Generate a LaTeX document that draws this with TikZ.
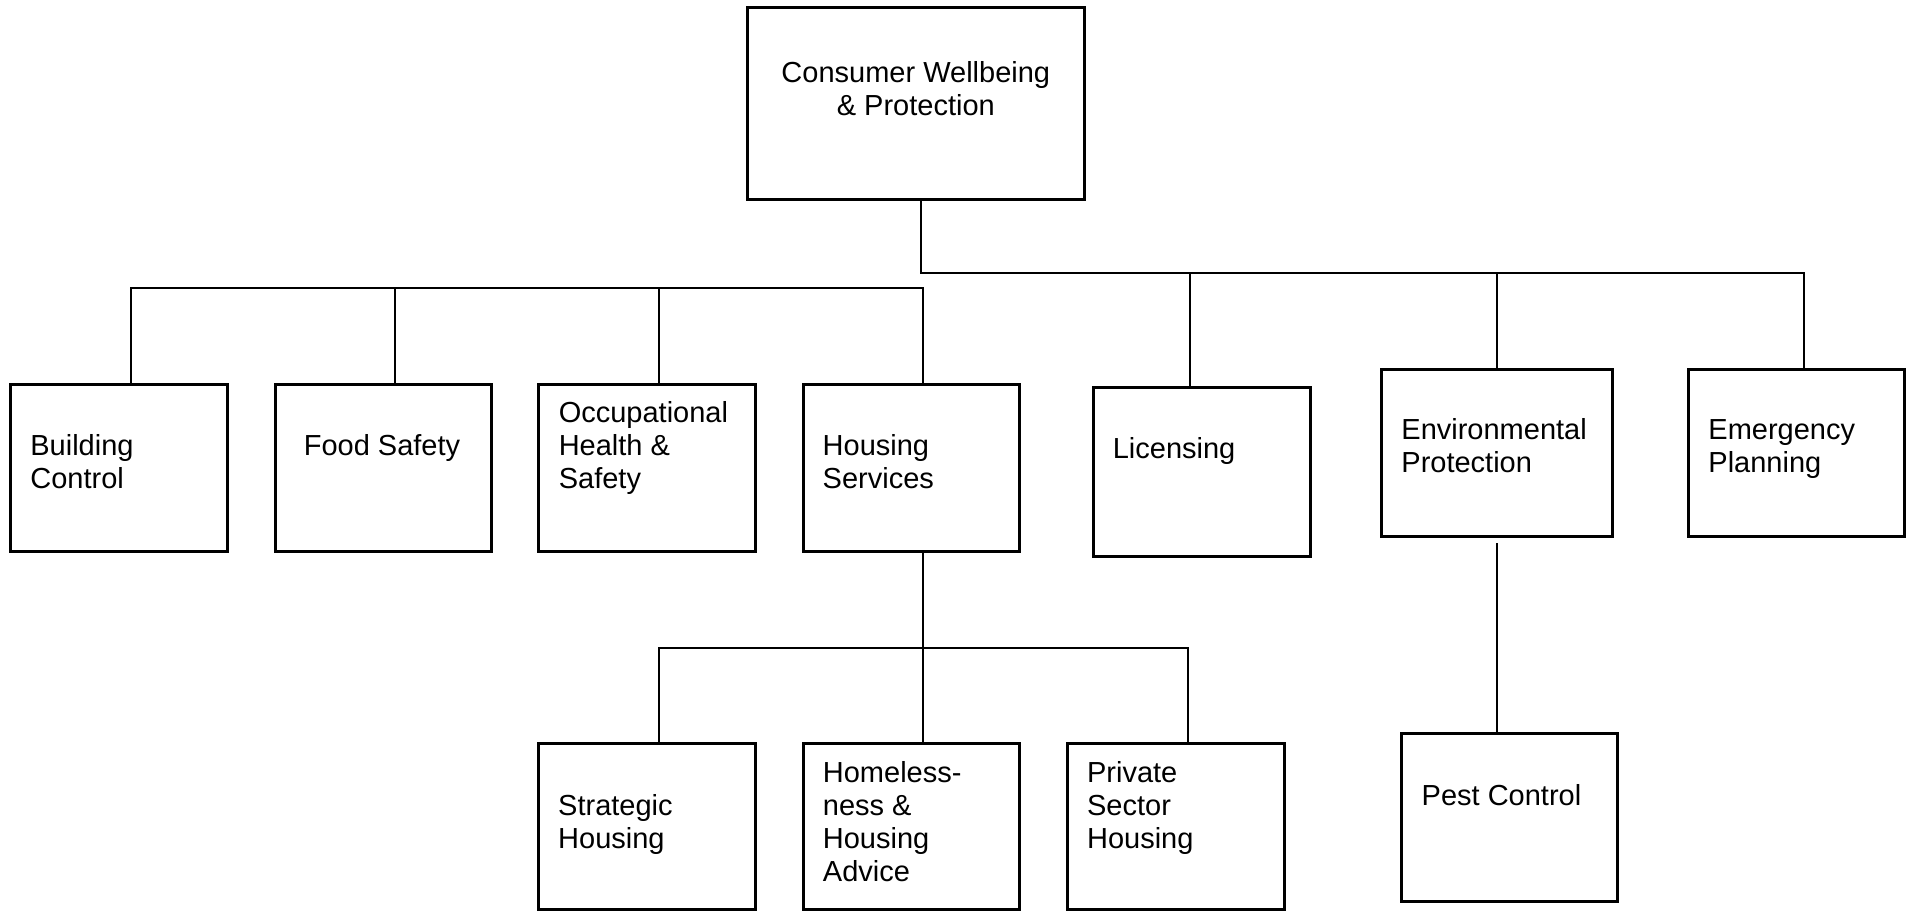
\documentclass[tikz,border=0pt]{standalone}
\usepackage{fontspec}
\setmainfont{Liberation Sans}
\usetikzlibrary{fit}
\begin{document}
\begin{tikzpicture}[x=0.5pt,y=-0.5pt,
  box/.style={draw, line width=1.5pt, inner sep=0pt, rectangle},
  conn/.style={draw, line width=1pt},
  lbl/.style={inner sep=0pt, anchor=base west, align=left, font=\fontsize{14.5}{16.5}\selectfont},
  clbl/.style={inner sep=0pt, anchor=base, align=center, font=\fontsize{14.5}{16.5}\selectfont}]
\useasboundingbox (0,0) rectangle (1910,911);
% boxes
\node[box, fit={(747.3,7.3) (1084.3,199)}] (top) {};
\node[box, fit={(10.7,384) (227.5,551.7)}] (bc) {};
\node[box, fit={(275,384) (491.8,551.7)}] (fs) {};
\node[box, fit={(538.6,384) (755.7,551.7)}] (oh) {};
\node[box, fit={(803.2,384) (1019.3,551.7)}] (hs) {};
\node[box, fit={(1093.2,387.7) (1310.3,556)}] (lic) {};
\node[box, fit={(1381.7,369) (1612.6,536.7)}] (env) {};
\node[box, fit={(1688.8,369) (1904.8,536.7)}] (em) {};
\node[box, fit={(1401,733.7) (1617.3,901.7)}] (pest) {};
\node[box, fit={(538.9,743.3) (755.3,909.5)}] (sh) {};
\node[box, fit={(803.1,743.3) (1019.5,909.5)}] (hl) {};
\node[box, fit={(1067.3,743.3) (1284.2,909.5)}] (ps) {};
% labels (base anchor = baseline of the last line)
\node[clbl] (top-t) at (915.8,115) {Consumer Wellbeing\\\& Protection};
\node[lbl] (bc-t) at (30,488) {Building\\Control};
\node[lbl] (fs-t) at (303.4,455.7) {Food Safety};
\node[lbl] (oh-t) at (558.4,488) {Occupational\\Health \&\\Safety};
\node[lbl] (hs-t) at (822.3,488) {Housing\\Services};
\node[lbl] (lic-t) at (1112.4,458.3) {Licensing};
\node[lbl] (env-t) at (1401,472.7) {Environmental\\Protection};
\node[lbl] (em-t) at (1708,472.7) {Emergency\\Planning};
\node[lbl] (pest-t) at (1421.3,805) {Pest Control};
\node[lbl] (sh-t) at (557.8,848.3) {Strategic\\Housing};
\node[lbl] (hl-t) at (822.5,881.7) {Homeless-\\ness \&\\Housing\\Advice};
\node[lbl] (ps-t) at (1086.7,848.3) {Private\\Sector\\Housing};
% junction coordinates
\coordinate (jt) at (921,272.7);
\coordinate (jlic) at (1190,272.7);
\coordinate (jenv) at (1497.2,272.7);
\coordinate (jem) at (1804,272.7);
\coordinate (jbc) at (131,287.7);
\coordinate (jfs) at (395.4,287.7);
\coordinate (joh) at (659.3,287.7);
\coordinate (jhs) at (923.4,287.7);
\coordinate (jsh) at (659.3,647.7);
\coordinate (jhl) at (923.4,647.7);
\coordinate (jps) at (1187.7,647.7);
% connectors
\draw[conn] (jt |- top.south) -- (jt) -- (jem) -- (jem |- em.north);
\draw[conn] (jlic) -- (jlic |- lic.north);
\draw[conn] (jenv) -- (jenv |- env.north);
\draw[conn] (bc.north -| jbc) -- (jbc) -- (jhs) -- (jhs |- hs.north);
\draw[conn] (jfs) -- (jfs |- fs.north);
\draw[conn] (joh) -- (joh |- oh.north);
\draw[conn] (jhl |- hs.south) -- (jhl |- hl.north);
\draw[conn] (sh.north -| jsh) -- (jsh) -- (jps) -- (jps |- ps.north);
\draw[conn] ([yshift=-2.5pt]env.south) -- (pest.north -| env.south);
\end{tikzpicture}
\end{document}
